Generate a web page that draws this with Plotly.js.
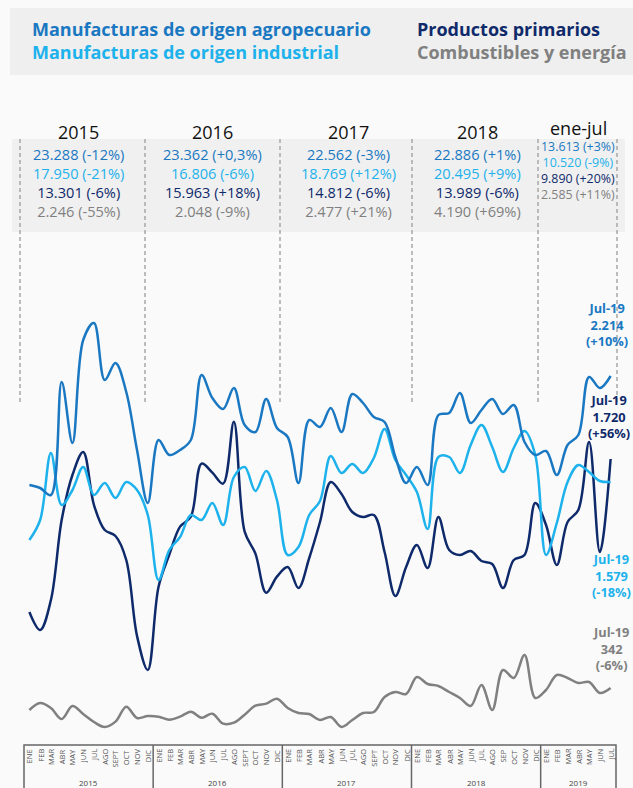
<!DOCTYPE html>
<html><head><meta charset="utf-8">
<script src="https://cdn.plot.ly/plotly-3.0.1.min.js"></script>
<style>html,body{margin:0;padding:0;background:#fafafa;}#chart{width:633px;height:788px;}</style>
</head><body><div id="chart"></div>
<script>
// ---------- DATA ----------
const monthsStd = ['ENE','FEB','MAR','ABR','MAY','JUN','JUL','AGO','SEPT','OCT','NOV','DIC'];
const months2018 = ['ENE','FEB','MAR','ABR','MAY','JUN','JUL','AGO','SEP','OCT','NOV','DIC'];
const months2019 = ['ENE','FEB','MAR','ABR','MAY','JUN','JUL'];
const axisYears = ['2015','2016','2017','2018','2019'];

const seriesNames = ['Manufacturas de origen agropecuario','Manufacturas de origen industrial','Productos primarios','Combustibles y energía'];

const moa = [1560,1542,1500,2178,1812,2430,2532,2190,2292,2118,1770,1452,
             1830,1740,1770,1830,2220,2082,2016,2142,1920,1878,2076,1902,
             1848,1572,1950,1908,2022,1878,2106,2052,1968,1938,1728,1572,
             1668,1560,1980,1992,2112,1932,2010,2076,1986,2040,1818,1740,
             1764,1620,1800,1860,2208,2142,2214];
const moi = [1230,1350,1752,1440,1530,1668,1500,1572,1482,1578,1530,1380,
             990,1170,1248,1380,1350,1452,1320,1608,1668,1524,1644,1470,
             1140,1188,1380,1464,1734,1632,1686,1632,1722,1896,1710,1620,
             1518,1296,1728,1728,1632,1800,1920,1788,1638,1782,1884,1740,
             1140,1332,1578,1680,1638,1584,1578];
const pp  = [798,690,870,1350,1620,1758,1440,1290,1254,1110,654,450,
             950,1142,1310,1370,1688,1634,1568,1940,1280,1148,914,1010,
             1068,942,1122,1338,1578,1506,1398,1368,1380,1158,894,1068,
             1200,1062,1368,1170,1140,1164,1104,1086,942,1110,1140,1452,
             1320,1080,1338,1410,1818,1158,1716];
const cye = [210,252,222,156,234,186,138,108,140,230,162,174,
             170,152,170,200,164,188,128,134,182,236,248,278,
             222,192,186,150,168,108,150,192,198,288,318,306,
             408,366,354,318,282,234,360,210,450,402,540,282,
             330,420,402,372,378,312,342];

const periodLabels = ['2015','2016','2017','2018','ene-jul'];
const moaTot = ['23.288 (-12%)','23.362 (+0,3%)','22.562 (-3%)','22.886 (+1%)','13.613 (+3%)'];
const moiTot = ['17.950 (-21%)','16.806 (-6%)','18.769 (+12%)','20.495 (+9%)','10.520 (-9%)'];
const ppTot  = ['13.301 (-6%)','15.963 (+18%)','14.812 (-6%)','13.989 (-6%)','9.890 (+20%)'];
const cyeTot = ['2.246 (-55%)','2.048 (-9%)','2.477 (+21%)','4.190 (+69%)','2.585 (+11%)'];

const endLabels = [['Jul-19','2.214','(+10%)'],['Jul-19','1.579','(-18%)'],['Jul-19','1.720','(+56%)'],['Jul-19','342','(-6%)']];

// ---------- STYLE / LAYOUT HELPERS ----------
const W = 633, H = 788;
const px = p => p / W;
const py = p => 1 - p / H;
const colors = ['#1a78c2', '#1db2ec', '#0f2a6b', '#808080'];
const FONT = 'Open Sans, Noto Sans, sans-serif';

const monthLabels = [].concat(monthsStd, monthsStd, monthsStd, months2018, months2019);
const xIdx = monthLabels.map((_, i) => i);

const series = [moa, moi, pp, cye];
const order = [3, 2, 1, 0];
const traces = order.map(k => ({
  x: xIdx, y: series[k], type: 'scatter', mode: 'lines', name: seriesNames[k],
  line: {color: colors[k], width: 2.5, shape: 'spline', smoothing: 1},
  hoverinfo: 'skip'
}));

const shapes = [];
const annotations = [];
const span = (k, t) => '<span style="color:' + colors[k] + '">' + t + '</span>';

// header band
shapes.push({type: 'rect', xref: 'paper', yref: 'paper', x0: px(10), x1: px(640), y0: py(75), y1: py(8),
  fillcolor: '#efefef', line: {width: 0}, layer: 'below'});
// header legend texts (two columns, two lines each)
[[0, 1, 30], [2, 3, 415]].forEach(([a, b, x]) => annotations.push({xref: 'paper', yref: 'paper', x: px(x), y: py(41),
  xanchor: 'left', yanchor: 'middle', showarrow: false, align: 'left',
  text: '<b>' + span(a, seriesNames[a]) + '<br>' + span(b, seriesNames[b]) + '</b>',
  font: {family: FONT, size: 18, color: colors[a]}}));

// summary box
shapes.push({type: 'rect', xref: 'paper', yref: 'paper', x0: px(12), x1: px(625), y0: py(232), y1: py(139),
  fillcolor: '#f0f0f0', line: {width: 0}, layer: 'below'});
// dashed separators
[20, 145, 280, 412, 538, 617].forEach(x => shapes.push({type: 'line', xref: 'paper', yref: 'paper',
  x0: px(x), x1: px(x), y0: py(139), y1: py(405), line: {color: '#a8a8a8', width: 1.5, dash: '4px,3px'}}));

// summary texts (one multi-line block per column)
const colX = [78, 212, 348, 477, 578];
const totals = [moaTot, moiTot, ppTot, cyeTot];
periodLabels.forEach((lab, c) => {
  const last = c === periodLabels.length - 1;
  annotations.push({xref: 'paper', yref: 'paper', x: px(colX[c]), y: py(last ? 128 : 132), xanchor: 'center', yanchor: 'middle',
    showarrow: false, text: lab, font: {family: FONT, size: 18, color: '#111'}});
  const txt = totals.map((arr, k) => span(k, arr[c])).join('<br>');
  annotations.push({xref: 'paper', yref: 'paper', x: px(colX[c]), y: py(last ? 170.5 : 182.3),
    xanchor: 'center', yanchor: 'middle', showarrow: false, align: 'center', text: txt,
    font: {family: FONT, size: last ? 12.4 : 14.6, color: colors[0]}});
});

// end labels
const endPos = [[607, 324], [611, 575], [609, 416.5], [611, 648]];
endLabels.forEach((lines, k) => annotations.push({xref: 'paper', yref: 'paper',
  x: px(endPos[k][0]), y: py(endPos[k][1]), xanchor: 'center', yanchor: 'middle', showarrow: false, align: 'center',
  text: '<b>' + lines.join('<br>') + '</b>', font: {family: FONT, size: 12.8, color: colors[k]}}));

// bottom axis box
shapes.push({type: 'rect', xref: 'x', yref: 'paper', x0: -0.5, x1: xIdx.length - 0.5, y0: py(800), y1: py(745),
  line: {color: '#666', width: 1.5}, fillcolor: 'rgba(0,0,0,0)'});
let start = 0;
const yearLens = [12, 12, 12, 12, 7];
yearLens.forEach((len, yi) => {
  if (yi > 0) shapes.push({type: 'line', xref: 'x', yref: 'paper', x0: start - 0.5, x1: start - 0.5, y0: py(745), y1: py(800),
    line: {color: '#666', width: 1.5}});
  annotations.push({xref: 'x', yref: 'paper', x: start + (len - 1) / 2, y: py(782), xanchor: 'center', yanchor: 'middle',
    showarrow: false, text: axisYears[yi], font: {family: FONT, size: 8, color: '#444'}});
  start += len;
});
monthLabels.forEach((m, i) => annotations.push({xref: 'x', yref: 'paper', x: i, y: py(747), xanchor: 'center', yanchor: 'top',
  showarrow: false, text: m, textangle: -90, font: {family: FONT, size: 7.5, color: '#555'}}));

const layout = {
  width: W, height: H,
  margin: {l: 0, r: 0, t: 0, b: 0, autoexpand: false},
  paper_bgcolor: '#fafafa', plot_bgcolor: 'rgba(0,0,0,0)',
  showlegend: false,
  xaxis: {range: [-2.7297, 56.079], visible: false, fixedrange: true},
  yaxis: {range: [-258, 4470], visible: false, fixedrange: true},
  shapes: shapes, annotations: annotations
};
Plotly.newPlot('chart', traces, layout, {staticPlot: true, displayModeBar: false});
</script></body></html>
